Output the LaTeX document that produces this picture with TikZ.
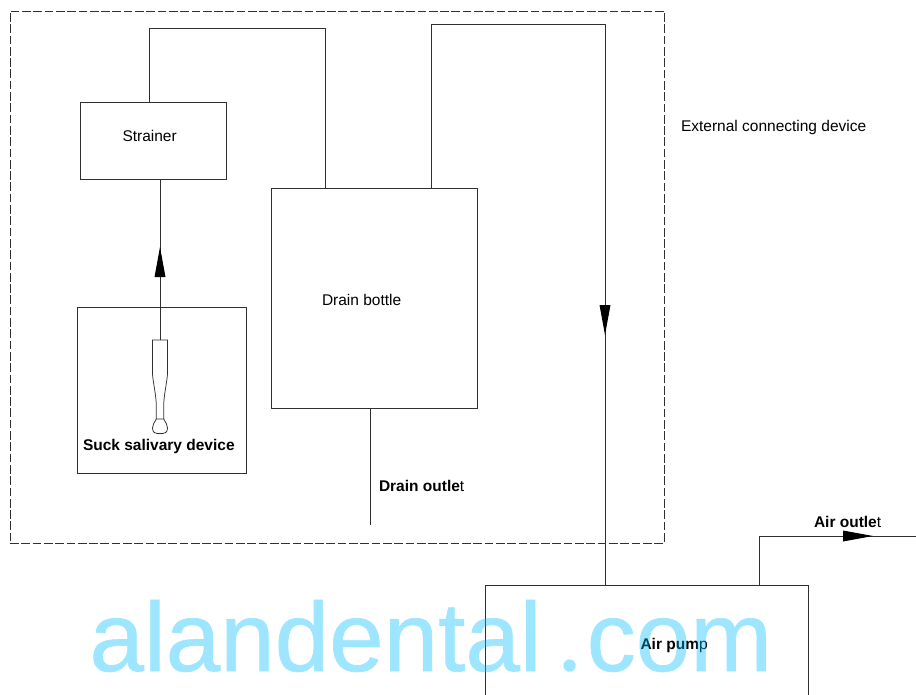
\documentclass[tikz,border=0pt]{standalone}
\usepackage{fontspec}
\setmainfont{Liberation Sans}
\newfontfamily\dotfont{Lato}
\newfontfamily\markfont[FakeBold=0.7]{Liberation Sans}
\usetikzlibrary{arrows.meta}
\definecolor{linec}{HTML}{303030}
\definecolor{wmark}{HTML}{00BFFF}
\tikzset{
  box/.style={draw=linec,line width=1pt,rectangle,inner sep=0pt,outer sep=0pt},
  conn/.style={draw=linec,line width=1pt,line join=miter},
  thin conn/.style={draw=linec,line width=0.75pt},
  tipline/.style={draw=linec,line width=1pt,-{Triangle[length=30pt,width=10.7pt,color=black]}},
  label/.style={inner sep=0pt,outer sep=0pt,anchor=base west,font=\fontsize{15.5}{17}\selectfont,text=black},
  mark text/.style={inner sep=0pt,outer sep=0pt,anchor=base west,font=\markfont\fontsize{98}{110}\selectfont,text=wmark}
}
\begin{document}
\begin{tikzpicture}[x=1pt,y=-1pt]
\useasboundingbox (0,0) rectangle (916,694);
\clip (0,0) rectangle (916,694);
\fill[white] (0,0) rectangle (916,694);
% boxes
\node[box,minimum width=654pt,minimum height=532pt,dash pattern=on 8.7pt off 2.6pt] (external) at (337,277) {};
\node[box,minimum width=146pt,minimum height=77pt] (strainer) at (153,140.5) {};
\node[box,minimum width=169pt,minimum height=166pt] (device) at (161.5,390) {};
\node[box,minimum width=206pt,minimum height=220pt] (bottle) at (374,298) {};
\node[box,minimum width=323pt,minimum height=160pt] (pump) at (646.5,665) {};
% free ends
\coordinate (handletop) at (160,340);
\coordinate (tipA) at (160,247);
\coordinate (tipB) at (605,335);
\coordinate (tipC) at (873,536);
\coordinate (drainend) at (370,525);
\coordinate (airend) at (916,536);
% hand piece
\draw[thin conn] (152.5,340) -- (167.5,340) -- (167.5,373)
  .. controls (167.5,380) and (163.7,395) .. (163.7,406) -- (163.7,419) -- (156.3,419) -- (156.3,406)
  .. controls (156.3,395) and (152.5,380) .. (152.5,373) -- cycle;
\draw[thin conn] (156.3,419) .. controls (154,423) and (152.5,425) .. (152.5,428)
  .. controls (152.5,432) and (155,433.5) .. (157,433.5) -- (163,433.5)
  .. controls (165,433.5) and (167.5,432) .. (167.5,428)
  .. controls (167.5,425) and (166,423) .. (163.7,419);
% connectors
\draw[conn] (handletop) -- (handletop |- strainer.south);
\draw[tipline] (handletop) -- (tipA);
\draw[conn] ([xshift=-4pt]strainer.north) |- (325,28.5) -- (325,0 |- bottle.north);
\draw[conn] (431,0 |- bottle.north) |- (605,24) -- (605,0 |- pump.north);
\draw[tipline] (605,24) -- (tipB);
\draw[conn] (drainend |- bottle.south) -- (drainend);
\draw[conn] (759,0 |- pump.north) |- (airend);
\draw[tipline] (759,536) -- (tipC);
% labels
\node[label] (tstrainer) at (122.5,141.5) {Strainer};
\node[label] (tbottle) at (322,305.5) {Drain bottle};
\node[label] (texternal) at (681,131.5) {External connecting device};
\node[label] (tdevice) at (83,450) {\textbf{Suck salivary device}};
\node[label] (tdrain) at (379,491) {\textbf{Drain outle}t};
\node[label] (tair) at (814,527) {\textbf{Air outle}t};
\node[label] (tpump) at (640.5,649) {\textbf{Air pum}p};
% watermark
\begin{scope}[transparency group,opacity=0.38]
\node[mark text] (watermark) at (89.5,671) {alandental\makebox[45pt][l]{\kern 16.5pt\dotfont.}com};
\end{scope}
\end{tikzpicture}
\end{document}
